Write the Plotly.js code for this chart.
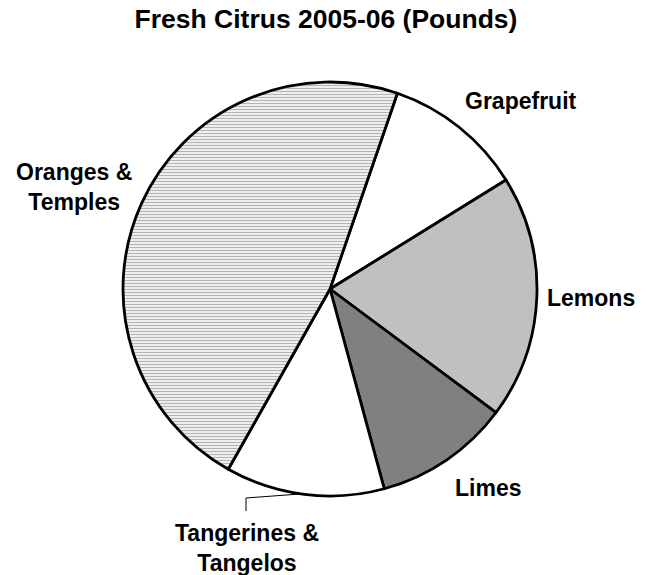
<!DOCTYPE html>
<html>
<head>
<meta charset="utf-8">
<script src="https://cdn.plot.ly/plotly-3.0.1.min.js"></script>
<style>html,body{margin:0;padding:0;background:#fff;}#chart{width:652px;height:575px;}</style>
</head>
<body>
<div id="chart"></div>
<script>
// Data (share of fresh citrus)
var categories = ['Grapefruit', 'Lemons', 'Limes', 'Tangerines & Tangelos', 'Oranges & Temples'];
var labelLines = ['Grapefruit', 'Lemons', 'Limes', 'Tangerines &<br>Tangelos', 'Oranges &<br>Temples'];
var values = [10.9, 19.0, 10.6, 12.4, 47.1];
var sliceColors = ['#ffffff', '#c0c0c0', '#808080', '#ffffff', '#eeeeee'];
var patternShapes = ['', '', '', '', '-'];
var titleText = 'Fresh Citrus 2005-06 (Pounds)';

var W = 652, H = 575;
var cx = 330, cy = 289, R = 207;
var FONT = 'Liberation Sans, Arial, Helvetica, sans-serif';

var trace = {
  type: 'pie',
  labels: categories,
  values: values,
  sort: false,
  direction: 'clockwise',
  rotation: 19,
  textinfo: 'none',
  hoverinfo: 'label+percent',
  showlegend: false,
  marker: {
    colors: sliceColors,
    line: {color: '#000000', width: 2.8},
    pattern: {shape: patternShapes, fgcolor: '#b4b4b4', bgcolor: '#eeeeee', size: 3, solidity: 0.35}
  },
  domain: {x: [(cx - R) / W, (cx + R) / W], y: [1 - (cy + R) / H, 1 - (cy - R) / H]}
};

// label anchor positions (pixels)
var labelPos = [[521, 101], [591, 298], [487.5, 487.5], [246.5, 548], [74, 187]];
var annotations = categories.map(function (c, i) {
  return {
    text: '<b>' + labelLines[i] + '</b>', xref: 'paper', yref: 'paper',
    x: labelPos[i][0] / W, y: 1 - labelPos[i][1] / H,
    xanchor: 'center', yanchor: 'middle', showarrow: false, align: 'center',
    font: {family: FONT, size: 23, color: '#000'}
  };
});

var layout = {
  width: W, height: H,
  margin: {l: 0, r: 0, t: 0, b: 0},
  paper_bgcolor: '#ffffff',
  title: {text: '<b>' + titleText + '</b>', x: 326 / W, xanchor: 'center', y: 1 - 19 / H, yanchor: 'middle',
          font: {family: FONT, size: 26.5, color: '#000'}},
  annotations: annotations,
  shapes: [
    {type: 'path', xref: 'paper', yref: 'paper',
     path: 'M ' + (246 / W) + ' ' + (1 - 511 / H) + ' L ' + (246 / W) + ' ' + (1 - 498 / H) + ' L ' + (300 / W) + ' ' + (1 - 494 / H),
     line: {color: '#000', width: 1}}
  ]
};

Plotly.newPlot('chart', [trace], layout, {displayModeBar: false, staticPlot: true});
</script>
</body>
</html>
